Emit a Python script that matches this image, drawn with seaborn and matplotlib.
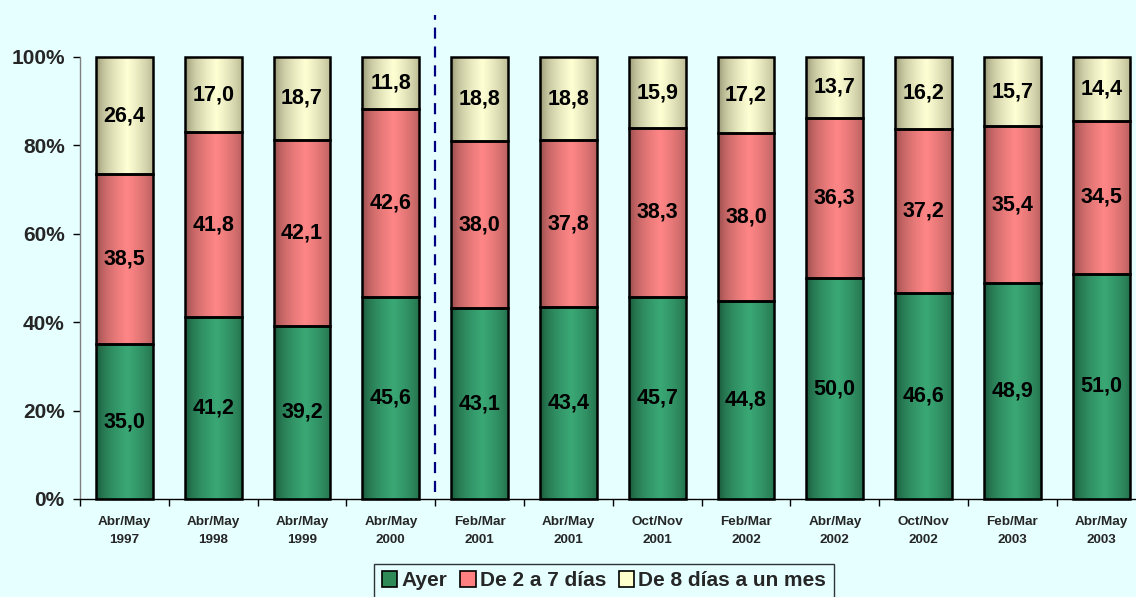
import numpy as np
import pandas as pd
import matplotlib
matplotlib.use("Agg")
import matplotlib.pyplot as plt
import seaborn as sns
from matplotlib.colors import LinearSegmentedColormap
from matplotlib.patches import Patch
from matplotlib.ticker import FixedLocator, PercentFormatter

periods = ["Abr/May\n1997", "Abr/May\n1998", "Abr/May\n1999", "Abr/May\n2000",
           "Feb/Mar\n2001", "Abr/May\n2001", "Oct/Nov\n2001", "Feb/Mar\n2002",
           "Abr/May\n2002", "Oct/Nov\n2002", "Feb/Mar\n2003", "Abr/May\n2003"]
ayer = [35.0, 41.2, 39.2, 45.6, 43.1, 43.4, 45.7, 44.8, 50.0, 46.6, 48.9, 51.0]
de2a7 = [38.5, 41.8, 42.1, 42.6, 38.0, 37.8, 38.3, 38.0, 36.3, 37.2, 35.4, 34.5]
de8 = [26.4, 17.0, 18.7, 11.8, 18.8, 18.8, 15.9, 17.2, 13.7, 16.2, 15.7, 14.4]
series_names = ["Ayer", "De 2 a 7 días", "De 8 días a un mes"]

BG = "#E6FFFF"
flat = ["#2E8B57", "#FF8080", "#FFFFCC"]
grad = [("#12452C", "#3AA875"), ("#7E3E3E", "#FF8686"), ("#7E7E5E", "#FFFFD4")]

sns.set_style("white")
plt.rcParams["font.family"] = ["Liberation Sans", "DejaVu Sans"]
plt.rcParams["font.weight"] = "bold"

fig = plt.figure(figsize=(11.36, 5.97), dpi=100, facecolor=BG)
ax = fig.add_axes([80 / 1136, 1 - 499 / 597, 1 - 80 / 1136, (499 - 57) / 597])
ax.set_facecolor(BG)

df = pd.DataFrame({"periodo": periods, "ayer": ayer, "de2a7": de2a7, "de8": de8})
df["c1"] = df["ayer"]
df["c2"] = df["ayer"] + df["de2a7"]
df["c3"] = df["c2"] + df["de8"]

W = 0.64
for col in ["c3", "c2", "c1"]:
    sns.barplot(data=df, x="periodo", y=col, ax=ax, color="white", width=W,
                saturation=1, edgecolor="black", linewidth=1.8, legend=False)

n = len(periods)
layers = [("de8", "c2", 2), ("de2a7", "c1", 1), ("ayer", None, 0)]
patches = list(ax.patches)
xs = np.linspace(0, 1, 256)
prof = np.clip(1 - np.abs(xs - 0.55) / 0.55, 0, 1) ** 0.45
img = np.tile(prof, (2, 1))
for k, (valcol, botcol, li) in enumerate(layers):
    c0, c1 = grad[li]
    cm2 = LinearSegmentedColormap.from_list("h%d" % li, [c0, c1])
    for i in range(n):
        p = patches[k * n + i]
        bot = 0 if botcol is None else df[botcol][i]
        val = df[valcol][i]
        p.set_y(bot)
        p.set_height(val)
        p.set_facecolor("none")
        p.set_zorder(3)
        p.set_clip_on(False)
        x0 = p.get_x()
        im = ax.imshow(img, cmap=cm2, extent=(x0, x0 + p.get_width(), bot, bot + val),
                       aspect="auto", zorder=2, interpolation="bilinear")
        im.set_clip_path(p)
        ax.text(i, bot + val / 2, f"{val:.1f}".replace(".", ","), ha="center",
                va="center", fontsize=15.5, fontweight="bold", color="black", zorder=4)

ax.set_xlim(-0.5, -0.5 + (1136 - 80) / 88.8)
ax.set_ylim(0, 100)
ax.set_xlabel("")
ax.set_ylabel("")

ax.yaxis.set_major_locator(FixedLocator([0, 20, 40, 60, 80, 100]))
ax.yaxis.set_major_formatter(PercentFormatter(decimals=0))
ax.tick_params(axis="y", which="major", left=True, direction="out", length=5,
               width=1, labelsize=15, pad=6, color="black")
ax.set_xticks(range(n))
ax.set_xticklabels(periods, fontsize=9.7, fontweight="bold", linespacing=1.75)
ax.tick_params(axis="x", which="major", bottom=False, length=0, pad=12)
ax.xaxis.set_minor_locator(FixedLocator(np.arange(-0.5, n, 1.0)))
ax.tick_params(axis="x", which="minor", bottom=True, direction="out", length=5,
               width=1, color="black")
for lab in ax.get_yticklabels():
    lab.set_fontweight("bold")

for s in ["top", "right"]:
    ax.spines[s].set_visible(False)
ax.spines["left"].set_color("#808080")
ax.spines["left"].set_linewidth(1)
ax.spines["bottom"].set_color("black")
ax.spines["bottom"].set_linewidth(1)

ln, = ax.plot([3.5, 3.5], [1.5, 109.5], color="#000080", lw=1.6, clip_on=False, zorder=5)
ln.set_dashes((5, 3.5))

handles = [Patch(facecolor=flat[i], edgecolor="black", linewidth=1.2, label=series_names[i])
           for i in range(3)]
leg = fig.legend(handles=handles, loc="upper center", ncol=3,
                 bbox_to_anchor=(604 / 1136, 1 - 564 / 597),
                 frameon=True, fancybox=False, edgecolor="black", facecolor=BG,
                 prop={"size": 15, "weight": "bold"}, handlelength=0.75,
                 handleheight=0.75, handletextpad=0.2, columnspacing=0.6,
                 borderpad=0.35, borderaxespad=0)
leg.get_frame().set_linewidth(1)

fig.savefig("out.png", dpi=100, facecolor=BG)
